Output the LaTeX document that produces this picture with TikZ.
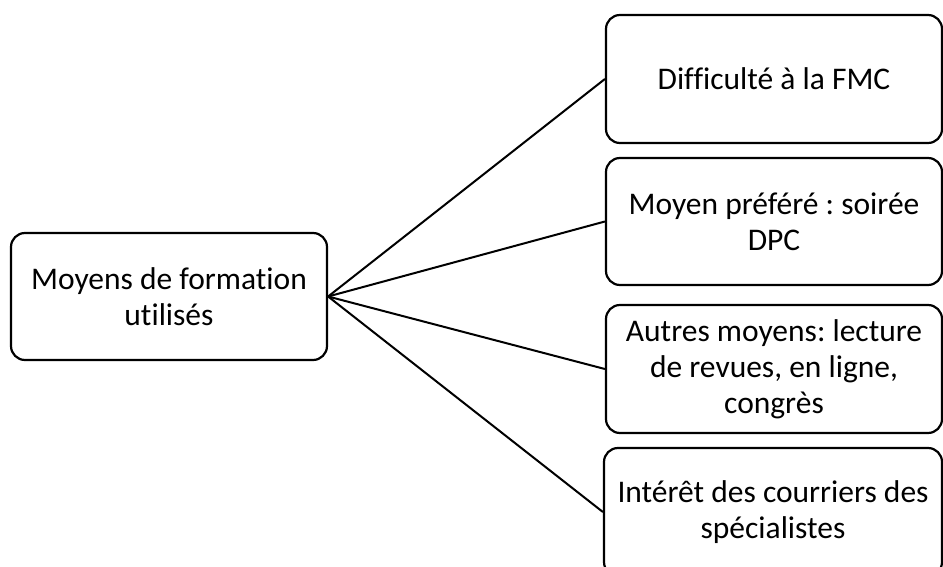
\documentclass[tikz,border=0pt]{standalone}
\usepackage{fontspec}
\setmainfont{Carlito}[Ligatures={NoCommon}]
\frenchspacing
\begin{document}
\begin{tikzpicture}[x=1pt,y=-1pt,
  box/.style={draw=black,line width=2.2pt,rounded corners=14pt,align=center,
    font=\fontsize{31.5}{36}\selectfont,inner sep=0pt},
  conn/.style={line width=2pt,black}]
\useasboundingbox (0,0) rectangle (943,567);
\node[box,minimum width=316pt,minimum height=127pt] (m) at (169,296.5) {Moyens de formation\\utilisés};
\node[box,minimum width=336pt,minimum height=128pt] (a) at (774,79) {Difficulté à la FMC};
\node[box,minimum width=336pt,minimum height=127pt] (b) at (774,221.5) {Moyen préféré : soirée\\DPC};
\node[box,minimum width=336pt,minimum height=128pt] (c) at (774,369) {Autres moyens: lecture\\de revues, en ligne,\\congrès};
\node[box,minimum width=338pt,minimum height=128pt] (d) at (773,512) {Intérêt des courriers des\\spécialistes};
\draw[conn] (m.east) -- (a.west);
\draw[conn] (m.east) -- (b.west);
\draw[conn] (m.east) -- (c.west);
\draw[conn] (m.east) -- (d.west);
\end{tikzpicture}
\end{document}
